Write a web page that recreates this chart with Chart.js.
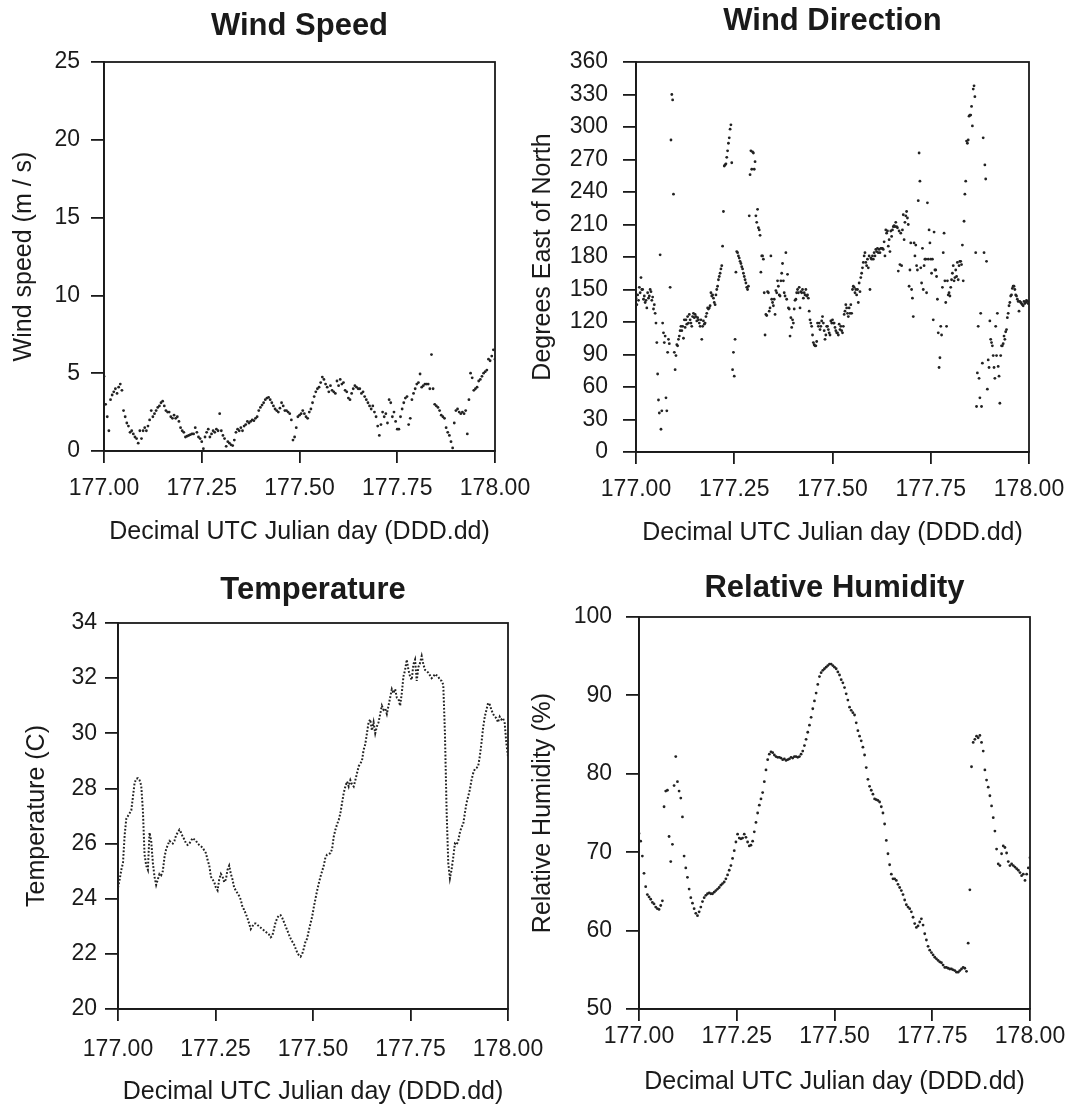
<!DOCTYPE html>
<html>
<head>
<meta charset="utf-8">
<script src="https://cdn.jsdelivr.net/npm/chart.js@4.4.0/dist/chart.umd.min.js"></script>
<style>
    body { margin: 0; background: #fff; }
    #page { position: relative; width: 1079px; height: 1111px; overflow: hidden; }
    #page canvas { position: absolute; }
</style>
</head>
<body>
<div id="page">
    <canvas id="speedChart"></canvas>
    <canvas id="directionChart"></canvas>
    <canvas id="temperatureChart"></canvas>
    <canvas id="humidityChart"></canvas>
</div>
<script>
// Samples are evenly spaced through one UTC day
const dayStart = 177.0;
const dayEnd = 178.0;
const dayTicks = [177.00, 177.25, 177.50, 177.75, 178.00];

const speedTicks = [0, 5, 10, 15, 20, 25];
const directionTicks = [0, 30, 60, 90, 120, 150, 180, 210, 240, 270, 300, 330, 360];
const temperatureTicks = [20, 22, 24, 26, 28, 30, 32, 34];
const humidityTicks = [50, 60, 70, 80, 90, 100];

// wind speed, m/s
const windSpeed = [
    4.8, 3.0, 2.2, 1.3, 3.3, 3.6, 3.8, 4.0, 3.7, 4.1, 4.3, 3.9, 2.6, 2.2, 1.8, 1.6, 1.2, 1.3, 1.1, 0.9,
    0.8, 0.5, 1.3, 0.8, 1.3, 1.5, 1.3, 1.6, 2.0, 2.6, 2.2, 2.4, 2.6, 2.8, 2.9, 3.1, 3.2, 2.9, 2.6, 2.5,
    2.5, 2.2, 2.1, 2.3, 2.1, 2.2, 1.9, 1.5, 1.3, 1.2, 0.9, 0.95, 1.0, 1.05, 1.1, 1.1, 1.5, 1.2, 0.9, 0.8,
    0.6, 0.15, 0.9, 1.2, 1.4, 0.9, 1.1, 1.3, 1.2, 1.4, 1.3, 2.4, 1.3, 1.0, 0.8, 0.3, 0.6, 0.5, 0.4, 0.35,
    0.7, 1.2, 1.4, 1.3, 1.5, 1.3, 1.6, 1.7, 1.9, 1.8, 1.9, 2.0, 1.95, 2.1, 2.2, 2.6, 2.8, 2.95, 3.1, 3.3,
    3.4, 3.45, 3.3, 3.1, 2.9, 2.7, 2.6, 2.5, 2.75, 3.1, 2.9, 2.6, 2.6, 2.5, 2.4, 2.0, 0.7, 0.9, 1.5, 2.2,
    2.3, 2.4, 2.6, 2.4, 2.2, 2.1, 2.5, 2.7, 3.1, 3.5, 3.8, 4.0, 4.1, 4.4, 4.75, 4.6, 4.3, 4.1, 3.8, 4.2,
    3.9, 3.8, 3.7, 4.5, 4.2, 4.6, 4.3, 4.4, 3.9, 3.8, 3.4, 3.3, 3.7, 4.0, 4.2, 4.1, 4.0, 4.0, 3.7, 3.8,
    3.5, 3.3, 3.1, 2.9, 2.7, 2.9, 2.5, 2.2, 1.6, 1.0, 1.7, 2.5, 2.2, 2.4, 1.8, 3.3, 3.1, 2.2, 2.5, 1.9,
    1.4, 1.4, 2.2, 2.7, 3.1, 3.4, 3.5, 1.7, 2.1, 3.3, 3.7, 4.0, 4.3, 4.4, 4.95, 4.1, 4.2, 4.3, 4.3, 4.3,
    4.0, 6.2, 4.0, 3.0, 2.9, 2.8, 2.6, 2.3, 2.2, 2.1, 1.5, 1.2, 1.0, 0.6, 0.2, 1.8, 2.6, 2.7, 2.5, 2.4,
    2.5, 2.4, 2.6, 1.1, 3.3, 5.0, 4.7, 3.9, 4.0, 4.1, 4.5, 4.6, 4.8, 5.0, 5.1, 5.2, 5.9, 5.8, 6.1, 6.5, 5.9
];

// wind direction, degrees east of north
const windDirection = [
    142, 136, 145, 140, 152, 147, 161, 150, 150, 141, 144, 138, 140, 133, 147, 142, 144, 150, 148, 140, 143, 132, 136, 128,
    119, 101, 72, 48, 36, 182, 21, 38, 119, 110, 101, 107, 50, 38, 92, 104, 100, 152, 288, 330, 325, 238, 92, 76,
    89, 99, 98, 104, 107, 112, 116, 112, 116, 105, 122, 115, 122, 118, 125, 119, 127, 122, 119, 116, 125, 128, 124, 127,
    125, 121, 124, 122, 119, 116, 122, 104, 116, 121, 118, 119, 125, 128, 133, 132, 133, 135, 147, 144, 145, 142, 138, 136,
    145, 150, 153, 159, 162, 165, 169, 172, 190, 222, 264, 265, 266, 272, 278, 285, 290, 298, 302, 267, 76, 92, 70, 104,
    166, 185, 184, 181, 179, 176, 174, 171, 169, 165, 162, 159, 156, 152, 150, 153, 218, 256, 278, 261, 277, 276, 261, 268,
    218, 212, 224, 207, 205, 200, 166, 181, 181, 178, 147, 108, 127, 126, 148, 147, 130, 133, 181, 141, 138, 135, 141, 127,
    149, 147, 158, 153, 145, 144, 158, 165, 174, 158, 147, 144, 184, 141, 164, 133, 132, 107, 124, 115, 122, 119, 132, 140,
    141, 147, 150, 147, 152, 133, 148, 147, 150, 142, 147, 145, 150, 144, 145, 142, 130, 122, 119, 116, 108, 101, 99, 98,
    98, 102, 119, 116, 119, 113, 116, 121, 125, 119, 112, 104, 108, 116, 116, 113, 110, 108, 121, 119, 122, 119, 119, 115,
    112, 110, 110, 108, 118, 113, 116, 112, 110, 116, 127, 130, 136, 133, 128, 125, 133, 128, 136, 128, 150, 153, 152, 147,
    150, 145, 150, 138, 156, 148, 161, 165, 170, 175, 181, 184, 175, 172, 178, 170, 181, 150, 179, 178, 181, 178, 184, 181,
    187, 185, 188, 184, 187, 184, 188, 188, 188, 187, 194, 181, 205, 202, 204, 190, 196, 185, 204, 199, 205, 208, 209, 208,
    212, 208, 207, 167, 204, 173, 202, 172, 205, 219, 196, 212, 218, 222, 216, 210, 153, 168, 193, 150, 142, 125, 193, 181,
    191, 172, 168, 232, 276, 250, 170, 156, 188, 150, 172, 178, 178, 147, 230, 178, 205, 193, 178, 165, 178, 122, 203, 168,
    168, 162, 141, 110, 78, 87, 116, 108, 152, 184, 202, 158, 138, 116, 158, 145, 147, 144, 152, 159, 165, 172, 158, 161,
    168, 162, 175, 159, 172, 176, 176, 173, 191, 158, 213, 238, 250, 287, 285, 288, 310, 311, 311, 319, 301, 335, 338, 328,
    184, 42, 73, 116, 68, 50, 128, 42, 82, 290, 184, 265, 252, 176, 58, 85, 78, 121, 104, 101, 98, 89, 78, 68,
    116, 89, 128, 79, 70, 45, 89, 98, 98, 100, 107, 104, 111, 113, 124, 128, 135, 138, 144, 145, 151, 153, 153, 150,
    145, 144, 141, 139, 130, 139, 138, 137, 136, 135, 139, 137, 138, 140, 139, 137, 138
];

// air temperature, C
const temperature = [
    24.4, 24.7, 25.05, 25.3, 26.3, 26.9, 27.0, 27.1, 27.2, 27.7, 28.2, 28.35, 28.37, 28.3, 28.1, 27.2, 25.6, 25.2, 25.05, 26.4,
    26.1, 25.3, 24.8, 24.5, 24.7, 24.9, 24.85, 25.0, 25.5, 25.8, 25.95, 26.1, 26.05, 26.0, 26.1, 26.3, 26.4, 26.5, 26.4, 26.25,
    26.15, 26.0, 25.95, 26.0, 26.1, 26.2, 26.15, 26.1, 26.0, 25.95, 25.9, 25.85, 25.75, 25.65, 25.4, 25.2, 24.8, 24.7, 24.6, 24.4,
    24.3, 24.7, 24.9, 24.8, 24.6, 24.7, 25.05, 25.2, 24.9, 24.7, 24.4, 24.3, 24.2, 24.1, 23.96, 23.7, 23.6, 23.45, 23.3, 23.1,
    22.9, 23.0, 23.1, 23.1, 23.05, 23.0, 22.95, 22.9, 22.85, 22.8, 22.75, 22.7, 22.6, 22.65, 22.9, 23.15, 23.3, 23.4, 23.4, 23.3,
    23.15, 23.0, 22.85, 22.7, 22.56, 22.45, 22.35, 22.2, 22.05, 21.95, 21.9, 22.0, 22.2, 22.45, 22.56, 22.85, 23.1, 23.35, 23.7, 24.0,
    24.3, 24.56, 24.8, 25.0, 25.2, 25.5, 25.6, 25.62, 25.65, 25.8, 26.25, 26.5, 26.7, 26.86, 27.1, 27.47, 27.83, 28.07, 28.25, 28.07,
    28.3, 28.15, 28.07, 28.3, 28.55, 28.8, 28.9, 29.0, 29.4, 29.6, 30.0, 30.4, 30.5, 30.1, 30.4, 30.0, 30.25, 30.4, 30.7, 31.0,
    30.85, 30.9, 30.7, 31.0, 31.3, 31.6, 31.45, 31.6, 31.3, 31.25, 31.0, 31.45, 32.06, 32.3, 32.67, 32.3, 32.06, 31.94, 32.5, 32.67,
    31.9, 32.4, 32.55, 32.8, 32.5, 32.3, 32.25, 32.2, 32.1, 32.0, 32.05, 32.15, 32.1, 32.05, 31.94, 31.9, 31.76, 30.0, 27.2, 25.3,
    24.74, 25.05, 25.5, 26.0, 25.95, 26.1, 26.4, 26.6, 26.7, 27.1, 27.47, 27.7, 27.95, 28.3, 28.55, 28.7, 28.74, 28.8, 29.16, 29.64,
    30.2, 30.6, 30.85, 31.1, 31.04, 30.85, 30.7, 30.6, 30.55, 30.4, 30.6, 30.5, 30.55, 30.37, 29.64, 29.16
];

// relative humidity, %
const humidity = [
    72.4, 71.4, 69.5, 67.3, 65.6, 64.6, 64.3, 64.0, 63.6, 63.4, 63.0, 62.8, 62.7, 63.2, 63.8, 75.8, 77.8, 77.9, 72.0, 68.8,
    71.0, 78.5, 82.2, 79.0, 77.8, 76.9, 74.5, 69.5, 68.0, 66.8, 65.3, 64.2, 63.5, 62.8, 62.2, 61.9, 62.4, 63.0, 63.7, 64.2,
    64.5, 64.7, 64.8, 64.7, 64.7, 64.9, 65.1, 65.3, 65.5, 65.8, 66.0, 66.2, 66.6, 67.1, 67.7, 68.3, 69.2, 70.2, 71.3, 72.3,
    71.8, 71.7, 71.8, 72.3, 71.9, 71.3, 70.8, 70.9, 71.4, 72.6, 73.8, 75.0, 76.0, 76.8, 77.6, 79.0, 80.5, 81.8, 82.5, 82.8,
    82.7, 82.4, 82.2, 82.1, 82.1, 82.0, 81.8, 81.9, 81.7, 81.8, 81.9, 82.1, 82.0, 82.2, 82.2, 82.1, 82.2, 82.5, 82.9, 83.6,
    84.4, 85.3, 86.2, 87.2, 88.3, 89.3, 90.3, 91.4, 92.4, 92.9, 93.2, 93.4, 93.6, 93.8, 94.0, 94.0, 93.8, 93.6, 93.4, 93.0,
    92.6, 92.0, 91.6, 91.0, 90.2, 89.4, 88.5, 88.1, 87.8, 87.5, 86.5, 85.5, 84.8, 84.2, 83.4, 82.4, 80.8, 79.3, 78.4, 77.9,
    77.4, 76.8, 76.7, 76.6, 76.4, 75.8, 75.0, 73.6, 71.5, 69.8, 68.4, 67.2, 66.6, 66.6, 66.4, 65.9, 65.5, 65.1, 64.6, 63.9,
    63.3, 63.0, 62.8, 62.4, 61.7, 60.9, 60.4, 60.6, 61.1, 61.5, 60.7, 59.6, 58.8, 58.0, 57.5, 57.2, 56.9, 56.6, 56.4, 56.2,
    56.0, 55.9, 55.6, 55.3, 55.3, 55.2, 55.1, 55.1, 55.0, 54.9, 54.7, 54.7, 54.9, 55.1, 55.3, 55.2, 54.8, 58.4, 65.2, 80.9,
    84.0, 84.4, 84.8, 84.6, 84.9, 84.0, 82.9, 80.5, 79.2, 78.3, 77.2, 75.9, 74.4, 72.7, 70.4, 68.5, 68.3, 69.8, 70.8, 70.6,
    69.9, 68.8, 68.3, 68.5, 68.3, 68.1, 67.9, 67.7, 67.4, 67.0, 67.2, 66.4, 67.2, 68.0, 69.3
];

const FONT = "'Liberation Sans', Arial, Helvetica, sans-serif";
const INK = '#1a1a1a';
const DOT = '#222';

const TITLE_SIZE = 31;
const TICK_SIZE = 23;
const AXIS_TITLE_SIZE = 25;
const Y_TICK_LEN = 13;
const X_TICK_LEN = 12;
const LINE_W = 1.8;

// spread the samples evenly over the day
function toPoints(values) {
    const n = values.length;
    return values.map((v, i) => ({ x: dayStart + i * (dayEnd - dayStart) / (n - 1), y: v }));
}

// box drawn round the plot area (top and right sides too)
const framePlugin = {
    id: 'frame',
    beforeDatasetsDraw(chart) {
        const { ctx, chartArea: a } = chart;
        ctx.save();
        ctx.strokeStyle = INK;
        ctx.lineWidth = LINE_W;
        ctx.strokeRect(a.left, a.top, a.right - a.left, a.bottom - a.top);
        ctx.restore();
    }
};

function makePanel(id, p) {
    const canvas = document.getElementById(id);
    canvas.width = p.box.width;
    canvas.height = p.box.height;
    canvas.style.left = p.box.left + 'px';
    canvas.style.top = p.box.top + 'px';

    // local coordinates inside the canvas
    const plotLeft = p.plot.left - p.box.left;
    const plotRight = p.plot.right - p.box.left;
    const plotTop = p.plot.top - p.box.top;
    const plotBottom = p.plot.bottom - p.box.top;

    const titleLine = TITLE_SIZE * 1.2;
    const titleTop = (p.titleY - p.box.top) - titleLine / 2;
    const tickLine = TICK_SIZE * 1.2;
    const axisLine = AXIS_TITLE_SIZE * 1.2;

    new Chart(canvas, {
        type: 'scatter',
        data: { datasets: p.datasets },
        options: {
            responsive: false,
            animation: false,
            events: [],
            layout: { padding: { left: 0, top: 0, right: p.box.width - plotRight, bottom: 0 } },
            plugins: {
                legend: { display: false },
                tooltip: { enabled: false },
                title: {
                    display: true,
                    text: p.title,
                    fullSize: false,
                    color: INK,
                    font: { family: FONT, size: TITLE_SIZE, weight: 'bold', lineHeight: 1.2 },
                    padding: { top: titleTop, bottom: plotTop - titleTop - titleLine }
                }
            },
            scales: {
                x: {
                    type: 'linear',
                    min: dayStart,
                    max: dayEnd,
                    afterBuildTicks: (scale) => { scale.ticks = dayTicks.map(v => ({ value: v })); },
                    afterFit: (scale) => { scale.height = p.box.height - plotBottom; },
                    border: { display: true, color: INK, width: LINE_W },
                    grid: { drawOnChartArea: false, drawTicks: true, tickLength: X_TICK_LEN, color: INK, lineWidth: LINE_W },
                    ticks: {
                        autoSkip: false,
                        maxRotation: 0,
                        color: INK,
                        font: { family: FONT, size: TICK_SIZE },
                        padding: (p.xLabelY - p.box.top) - plotBottom - X_TICK_LEN - tickLine / 2,
                        callback: (v) => Number(v).toFixed(2)
                    },
                    title: {
                        display: true,
                        text: 'Decimal UTC Julian day (DDD.dd)',
                        color: INK,
                        font: { family: FONT, size: AXIS_TITLE_SIZE },
                        padding: { top: 0, bottom: p.box.height - (p.xTitleY - p.box.top) - axisLine / 2 }
                    }
                },
                y: {
                    type: 'linear',
                    min: p.yTicks[0],
                    max: p.yTicks[p.yTicks.length - 1],
                    afterBuildTicks: (scale) => { scale.ticks = p.yTicks.map(v => ({ value: v })); },
                    afterFit: (scale) => { scale.width = plotLeft; },
                    border: { display: true, color: INK, width: LINE_W },
                    grid: { drawOnChartArea: false, drawTicks: true, tickLength: Y_TICK_LEN, color: INK, lineWidth: LINE_W },
                    ticks: {
                        autoSkip: false,
                        color: INK,
                        font: { family: FONT, size: TICK_SIZE },
                        padding: plotLeft - Y_TICK_LEN - (p.yLabelRight - p.box.left)
                    },
                    title: {
                        display: true,
                        text: p.yTitle,
                        color: INK,
                        font: { family: FONT, size: AXIS_TITLE_SIZE },
                        padding: { top: (p.yTitleX - p.box.left) - axisLine / 2, bottom: 0 }
                    }
                }
            }
        },
        plugins: [framePlugin]
    });
}

function dots(values) {
    return {
        data: toPoints(values),
        pointRadius: 1.4,
        pointBorderWidth: 0,
        pointBackgroundColor: DOT,
        showLine: false
    };
}

makePanel('speedChart', {
    box: { left: 0, top: 0, width: 565, height: 555 },
    plot: { left: 104, right: 495, top: 62, bottom: 451 },
    title: 'Wind Speed', titleY: 26,
    yTitle: 'Wind speed (m / s)', yTitleX: 24, yLabelRight: 80,
    xLabelY: 489, xTitleY: 532,
    yTicks: speedTicks,
    datasets: [dots(windSpeed)]
});

makePanel('directionChart', {
    box: { left: 520, top: 0, width: 559, height: 555 },
    plot: { left: 636, right: 1029, top: 62, bottom: 452 },
    title: 'Wind Direction', titleY: 21,
    yTitle: 'Degrees East of North', yTitleX: 543, yLabelRight: 608,
    xLabelY: 490, xTitleY: 533,
    yTicks: directionTicks,
    datasets: [dots(windDirection)]
});

makePanel('temperatureChart', {
    box: { left: 0, top: 555, width: 575, height: 556 },
    plot: { left: 118, right: 508, top: 623, bottom: 1009 },
    title: 'Temperature', titleY: 590,
    yTitle: 'Temperature (C)', yTitleX: 37, yLabelRight: 97,
    xLabelY: 1050, xTitleY: 1092,
    yTicks: temperatureTicks,
    datasets: [{
        data: toPoints(temperature),
        showLine: true,
        pointRadius: 0,
        borderColor: DOT,
        borderWidth: 2,
        borderDash: [1.8, 1.8],
        tension: 0
    }]
});

makePanel('humidityChart', {
    box: { left: 520, top: 555, width: 559, height: 556 },
    plot: { left: 639, right: 1030, top: 617, bottom: 1009 },
    title: 'Relative Humidity', titleY: 588,
    yTitle: 'Relative Humidity (%)', yTitleX: 543, yLabelRight: 612,
    xLabelY: 1037, xTitleY: 1082,
    yTicks: humidityTicks,
    datasets: [dots(humidity)]
});
</script>
</body>
</html>
